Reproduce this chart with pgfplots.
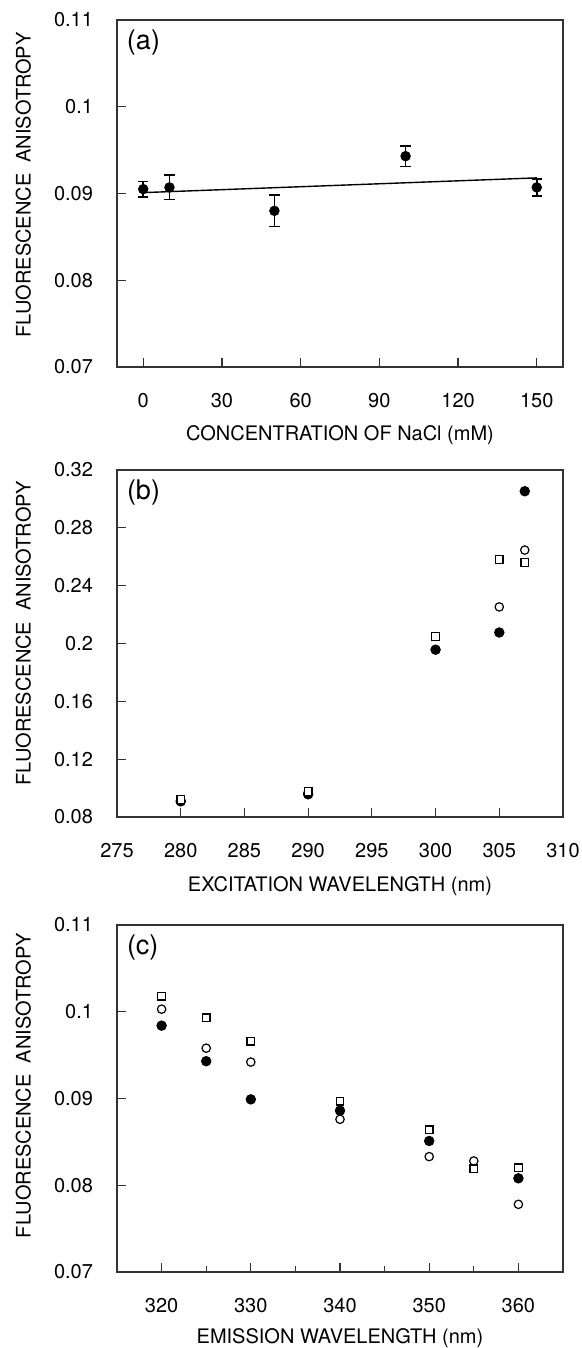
\documentclass[border=0pt]{standalone}
\usepackage{fontspec}
\setmainfont{TeX Gyre Heros}
\usepackage{pgfplots}
\pgfplotsset{compat=1.18}

% common look of the three panels
\pgfplotsset{
  panel/.style={
    scale only axis, width=223pt, height=173.5pt, anchor=south west,
    axis line style={black!80, line width=0.6pt},
    tick style={black!80, line width=0.6pt},
    tick align=inside, xtick pos=bottom, ytick pos=left,
    major tick length=4.5pt, minor tick length=3pt,
    ticklabel style={font=\fontsize{10}{12}\selectfont},
    label style={font=\fontsize{10.5}{12.6}\selectfont},
    /pgf/number format/assume math mode=true,
    yticklabel style={/pgf/number format/fixed, /pgf/number format/precision=2,
      anchor=east, xshift=-8.5pt},
    xticklabel style={anchor=center, yshift=-16.6pt},
    ylabel={FLUORESCENCE\ \ ANISOTROPY},
    clip=false,
  },
  filled/.style={only marks, mark=*, mark size=2.4pt, mark options={fill=black, draw=black}},
  opencirc/.style={only marks, mark=o, mark size=2.1pt, mark options={fill=white, draw=black, line width=0.6pt}},
  opensq/.style={only marks, mark=square*, mark size=1.9pt, mark options={fill=white, draw=black, line width=0.6pt}},
}
\tikzset{tag/.style={anchor=north west, inner sep=0pt, xshift=4.8pt, yshift=-4.5pt, font=\fontsize{13.5}{15}\selectfont}}

\begin{document}
\begin{tikzpicture}
\useasboundingbox (0,0) rectangle (291pt,674pt);

% (a) NaCl concentration
\begin{axis}[panel, at={(58.5pt,490.5pt)},
  xmin=-10, xmax=160, ymin=0.07, ymax=0.11,
  xtick={0,30,60,90,120,150}, ytick={0.07,0.08,0.09,0.1,0.11},
  every axis x label/.style={at={(axis description cs:0.5,-0.197)}, anchor=center},
  every axis y label/.style={at={(axis description cs:-0.21,0.525)}, rotate=90, anchor=center},
  xlabel={CONCENTRATION OF NaCl (mM)}]
\addplot[black, line width=0.7pt, no marks] coordinates {(0,0.0901) (150,0.0918)};
\addplot[filled, error bars/.cd, y dir=both, y explicit,
  error bar style={black, line width=0.8pt}, error mark options={black, line width=0.8pt, mark size=2.6pt, rotate=90}]
  coordinates {
  (0,0.0905) +- (0,0.0009)
  (10,0.0907) +- (0,0.0014)
  (50,0.0880) +- (0,0.0018)
  (100,0.0943) +- (0,0.0012)
  (150,0.0907) +- (0,0.0010)
  };
\node[tag] at (rel axis cs:0,1) {(a)};
\end{axis}

% (b) excitation wavelength
\begin{axis}[panel, at={(58.5pt,265.5pt)},
  xmin=275, xmax=310, ymin=0.08, ymax=0.32,
  xtick={275,280,285,290,295,300,305,310},
  ytick={0.08,0.12,0.16,0.2,0.24,0.28,0.32},
  every axis x label/.style={at={(axis description cs:0.5,-0.199)}, anchor=center},
  every axis y label/.style={at={(axis description cs:-0.21,0.53)}, rotate=90, anchor=center},
  xlabel={EXCITATION WAVELENGTH (nm)}]
\addplot[filled] coordinates {(280,0.0908) (290,0.0957) (300,0.1957) (305,0.2076) (307,0.3053)};
\addplot[opencirc] coordinates {(280,0.0915) (290,0.0968) (305,0.2253) (307,0.2646)};
\addplot[opensq] coordinates {(280,0.0922) (290,0.0977) (300,0.2048) (305,0.2582) (307,0.2561)};
\node[tag] at (rel axis cs:0,1) {(b)};
\end{axis}

% (c) emission wavelength
\begin{axis}[panel, at={(58.5pt,38pt)},
  xmin=315, xmax=365, ymin=0.07, ymax=0.11,
  xtick={320,330,340,350,360}, minor xtick={325,335,345,355},
  ytick={0.07,0.08,0.09,0.1,0.11},
  every axis x label/.style={at={(axis description cs:0.5,-0.191)}, anchor=center},
  every axis y label/.style={at={(axis description cs:-0.21,0.537)}, rotate=90, anchor=center},
  xlabel={EMISSION WAVELENGTH (nm)}]
\addplot[opencirc] coordinates {(320,0.1003) (325,0.0958) (330,0.0942) (340,0.0876) (350,0.0833) (355,0.0828) (360,0.0778)};
\addplot[opensq] coordinates {(320,0.1018) (325,0.0993) (330,0.0966) (340,0.0897) (350,0.0864) (355,0.0819) (360,0.0820)};
\addplot[filled] coordinates {(320,0.0984) (325,0.0943) (330,0.0899) (340,0.0886) (350,0.0851) (360,0.0808)};
\node[tag] at (rel axis cs:0,1) {(c)};
\end{axis}
\end{tikzpicture}
\end{document}
